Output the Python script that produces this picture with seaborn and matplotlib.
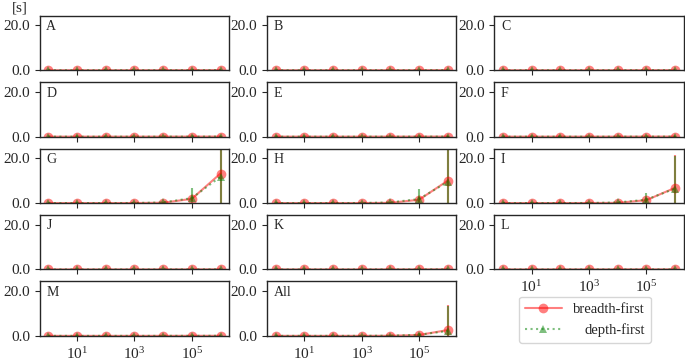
import numpy as np
import pandas as pd
import seaborn as sns
import matplotlib.pyplot as plt

sizes = [1, 10, 100, 1000, 10000, 100000, 1000000]
panels = ['A', 'B', 'C', 'D', 'E', 'F', 'G', 'H', 'I', 'J', 'K', 'L', 'M', 'All']

flat = [0.01, 0.01, 0.01, 0.01, 0.02, 0.03, 0.05]
flat_err = [0.0, 0.0, 0.0, 0.0, 0.01, 0.02, 0.05]

breadth = {p: flat for p in panels}
depth = {p: flat for p in panels}
breadth_err = {p: flat_err for p in panels}
depth_err = {p: flat_err for p in panels}

breadth['G'] = [0.01, 0.01, 0.01, 0.02, 0.15, 1.9, 13.2]
depth['G'] = [0.01, 0.01, 0.01, 0.03, 0.3, 2.2, 11.8]
breadth_err['G'] = [0.0, 0.0, 0.0, 0.01, 0.1, 1.0, 16.0]
depth_err['G'] = [0.0, 0.0, 0.0, 0.01, 0.3, 4.6, 15.0]

breadth['H'] = [0.01, 0.01, 0.01, 0.02, 0.1, 1.5, 10.0]
depth['H'] = [0.01, 0.01, 0.01, 0.03, 0.3, 1.8, 9.5]
breadth_err['H'] = [0.0, 0.0, 0.0, 0.01, 0.1, 1.0, 15.0]
depth_err['H'] = [0.0, 0.0, 0.0, 0.01, 0.3, 4.4, 15.0]

breadth['I'] = [0.01, 0.01, 0.01, 0.02, 0.1, 1.3, 6.8]
depth['I'] = [0.01, 0.01, 0.01, 0.03, 0.3, 1.5, 6.5]
breadth_err['I'] = [0.0, 0.0, 0.0, 0.01, 0.1, 0.8, 14.5]
depth_err['I'] = [0.0, 0.0, 0.0, 0.01, 0.3, 3.1, 14.5]

breadth['All'] = [0.01, 0.01, 0.01, 0.02, 0.05, 0.4, 2.6]
depth['All'] = [0.01, 0.01, 0.01, 0.02, 0.1, 0.5, 2.2]
breadth_err['All'] = [0.0, 0.0, 0.0, 0.01, 0.05, 0.4, 11.0]
depth_err['All'] = [0.0, 0.0, 0.0, 0.01, 0.1, 1.0, 11.0]


def main():
  sns.set_style('ticks')
  plt.rcParams['font.family'] = ['Liberation Serif', 'DejaVu Serif']
  plt.rcParams['font.size'] = 11
  plt.rcParams['axes.linewidth'] = 1.0

  fig = plt.figure(figsize=(6.85, 3.6), dpi=100)
  gs = fig.add_gridspec(5, 3, left=0.058, right=0.998, top=0.956, bottom=0.067,
                        wspace=0.2, hspace=0.22)

  for i, p in enumerate(panels):
    r, c = divmod(i, 3)
    ax = fig.add_subplot(gs[r, c])
    df = pd.DataFrame({'size': sizes, 'breadth': breadth[p], 'depth': depth[p]})

    # error bars first, lines and markers on top
    ax.errorbar(sizes, breadth[p], yerr=breadth_err[p], fmt='none',
                ecolor='red', alpha=0.5, elinewidth=1.5)
    ax.errorbar(sizes, depth[p], yerr=depth_err[p], fmt='none',
                ecolor='green', alpha=0.5, elinewidth=1.5)
    sns.lineplot(data=df, x='size', y='breadth', ax=ax, color='red', alpha=0.5,
                 marker='o', markersize=7, markeredgewidth=0, linewidth=1.5,
                 label='breadth-first', legend=False)
    sns.lineplot(data=df, x='size', y='depth', ax=ax, color='green', alpha=0.5,
                 marker='^', markersize=6, markeredgewidth=0, linewidth=1.5,
                 linestyle=':', label='depth-first', legend=False)

    ax.set_xscale('log')
    ax.set_xticks([10, 1000, 100000])
    ax.minorticks_off()
    ax.set_ylim(0, 24.3)
    ax.set_yticks([0, 20])
    ax.set_yticklabels(['0.0', '20.0'])
    ax.set_xlabel('')
    ax.set_ylabel('')
    ax.text(0.035, 0.92, p, transform=ax.transAxes, ha='left', va='top', fontsize=10)
    if r < 3 or (r == 3 and c < 2):
      ax.tick_params(labelbottom=False)
    if i == 0:
      ax.text(-0.105, 1.02, '[s]', transform=ax.transAxes, ha='center', va='bottom')
      handles, labels = ax.get_legend_handles_labels()

  lax = fig.add_subplot(gs[4, 2])
  lax.axis('off')
  leg = lax.legend(handles, labels, loc='center', bbox_to_anchor=(0.48, 0.3),
                   fontsize=10.5, handlelength=2.5)
  # right-align the legend texts
  fig.canvas.draw()
  renderer = fig.canvas.get_renderer()
  widths = [t.get_window_extent(renderer).width for t in leg.get_texts()]
  for t, w in zip(leg.get_texts(), widths):
    t.set_position((max(widths) - w, 0))

  fig.savefig('out.png', dpi=100)


if __name__ == "__main__":
  main()
